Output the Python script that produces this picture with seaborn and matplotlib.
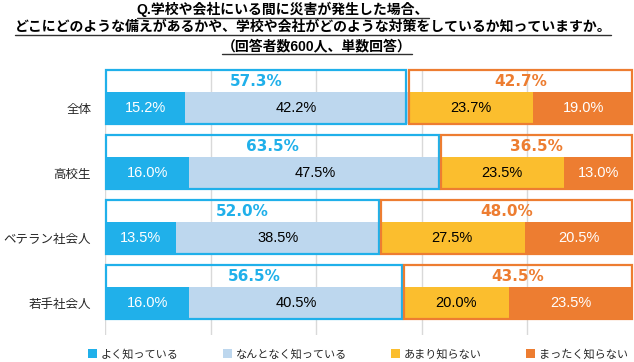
import matplotlib
matplotlib.use('Agg')
import matplotlib.pyplot as plt
import seaborn as sns
import pandas as pd
from matplotlib.patches import Rectangle, Patch
from matplotlib.lines import Line2D

# ---------------- data ----------------
categories = ['全体', '高校生', 'ベテラン社会人', '若手社会人']
well_know = [15.2, 16.0, 13.5, 16.0]
somewhat_know = [42.2, 47.5, 38.5, 40.5]
not_much = [23.7, 23.5, 27.5, 20.0]
not_at_all = [19.0, 13.0, 20.5, 23.5]
know_total = [57.3, 63.5, 52.0, 56.5]
not_know_total = [42.7, 36.5, 48.0, 43.5]
series_names = ['よく知っている', 'なんとなく知っている', 'あまり知らない', 'まったく知らない']
title_lines = ['Q.学校や会社にいる間に災害が発生した場合、',
               'どこにどのような備えがあるかや、学校や会社がどのような対策をしているか知っていますか。',
               '（回答者数600人、単数回答）']

# ---------------- style ----------------
sns.set_style('white')
plt.rcParams['font.family'] = ['Liberation Sans', 'Noto Sans CJK JP', 'DejaVu Sans']

C_BLUE = '#20B0EA'
C_LBLUE = '#BDD7EE'
C_YEL = '#FBBE2E'
C_ORG = '#ED7D31'
colors = [C_BLUE, C_LBLUE, C_YEL, C_ORG]

df = pd.DataFrame({
    'cat': categories,
    's1': well_know, 's2': somewhat_know, 's3': not_much, 's4': not_at_all,
})
df['c1'] = df['s1']
df['c2'] = df['c1'] + df['s2']
df['c3'] = df['c2'] + df['s3']
df['c4'] = df['c3'] + df['s4']

W, H = 634, 362
fig = plt.figure(figsize=(W / 100, H / 100), dpi=100)
ax = fig.add_axes([105 / W, 1 - 335 / H, (633 - 105) / W, (335 - 69) / H])

BAR_W = 0.5
# stacked by overlaying cumulative bars (largest first)
for col, c in zip(['c4', 'c3', 'c2', 'c1'], [C_ORG, C_YEL, C_LBLUE, C_BLUE]):
    sns.barplot(data=df, x=col, y='cat', orient='h', order=categories,
                color=c, saturation=1, width=BAR_W, linewidth=0, ax=ax)

ax.set_xlim(0, 100)
ax.set_ylim(3.49, -0.6)
ax.set_xticks([0, 20, 40, 60, 80])
ax.set_xticklabels([])
ax.grid(axis='x', color='#D9D9D9', lw=1)
ax.grid(axis='y', visible=False)
ax.set_axisbelow(True)
ax.tick_params(axis='both', length=0)
ax.tick_params(axis='y', pad=10, labelsize=9)
for s in ax.spines.values():
    s.set_visible(False)
ax.set_xlabel('')
ax.set_ylabel('')

BOX_TOP = 0.58
for i in range(len(categories)):
    kt = know_total[i]
    y0 = i + BAR_W / 2
    ax.add_patch(Rectangle((0.1, y0), kt - 0.3, -(BOX_TOP + BAR_W / 2),
                           fill=False, ec=C_BLUE, lw=1.6, clip_on=False, zorder=5))
    ax.add_patch(Rectangle((kt + 0.2, y0), 100 - kt - 0.4, -(BOX_TOP + BAR_W / 2),
                           fill=False, ec=C_ORG, lw=1.6, clip_on=False, zorder=5))
    ly = (i - BOX_TOP + i - BAR_W / 2) / 2
    ax.text(kt / 2, ly, f'{kt:.1f}%', color=C_BLUE, fontsize=11, fontweight='bold',
            family='DejaVu Sans', ha='center', va='center', zorder=6)
    ax.text((kt + 100) / 2, ly, f'{not_know_total[i]:.1f}%', color=C_ORG, fontsize=11,
            fontweight='bold', family='DejaVu Sans', ha='center', va='center', zorder=6)
    segs = [well_know[i], somewhat_know[i], not_much[i], not_at_all[i]]
    left = 0
    for j, v in enumerate(segs):
        tc = 'white' if j in (0, 3) else 'black'
        ax.text(left + v / 2, i, f'{v:.1f}%', color=tc, fontsize=10.5,
                ha='center', va='center', zorder=6)
        left += v

# ---------------- title ----------------
title_pos = [(283, 9), (313, 27), (317, 46)]
title_texts = []
for (x, y), t in zip(title_pos, title_lines):
    title_texts.append(fig.text(x / W, 1 - y / H, t, ha='center', va='center',
                                fontsize=10, fontweight='bold', color='black'))

# ---------------- legend ----------------
handles = [Patch(facecolor=c, edgecolor='none') for c in colors]
fig.legend(handles, series_names, loc='center', bbox_to_anchor=(358 / W, 1 - 354 / H),
           ncol=4, frameon=False, fontsize=8, handlelength=0.8, handleheight=0.8,
           handletextpad=0.35, columnspacing=4.0, borderaxespad=0, borderpad=0)

# underline titles
fig.canvas.draw()
inv = fig.transFigure.inverted()
for t in title_texts:
    bb = t.get_window_extent()
    (x0, y0), (x1, _) = inv.transform([(bb.x0, bb.y0 - 1), (bb.x1, bb.y0)])
    fig.add_artist(Line2D([x0, x1], [y0, y0], transform=fig.transFigure,
                          color='#303030', lw=1.0))

fig.savefig('out.png', dpi=100)
